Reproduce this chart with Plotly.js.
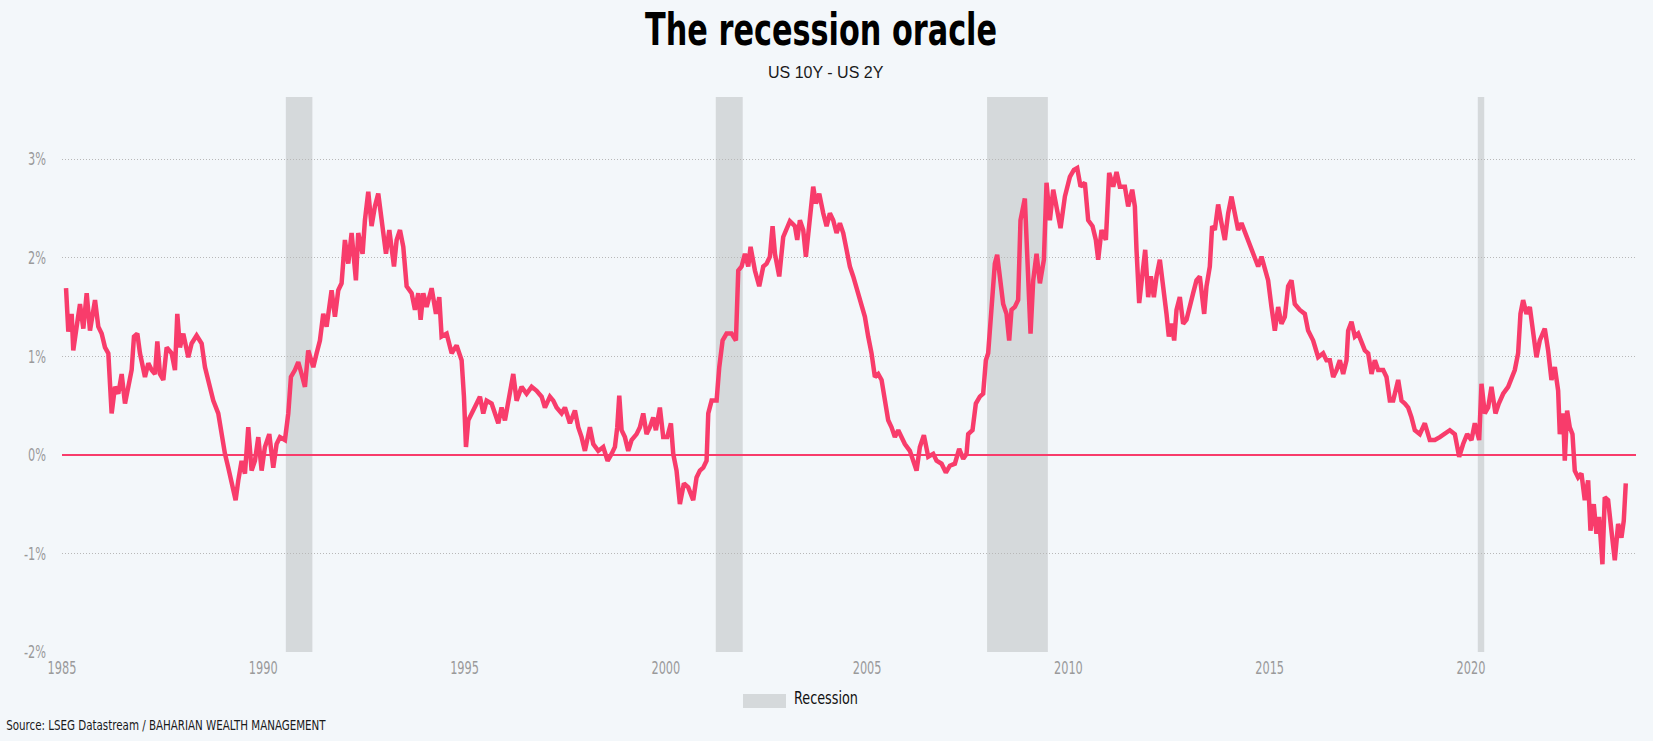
<!DOCTYPE html>
<html>
<head>
<meta charset="utf-8">
<script src="https://cdn.plot.ly/plotly-3.0.1.min.js"></script>
<style>
  html, body { margin: 0; padding: 0; background: #F3F7FA; }
  #chart { width: 1653px; height: 741px; }
</style>
</head>
<body>
<div id="chart"></div>
<script>
// ---- Data (decimal years, spread in %) ----
const years = [
  1985.10,1985.157,1985.24,1985.28,1985.364,1985.447,1985.53,1985.613,1985.695,1985.82,1985.902,1985.985,
  1986.068,1986.151,1986.233,1986.316,1986.399,1986.482,1986.565,1986.647,1986.73,1986.788,1986.871,1986.937,
  1987.061,1987.144,1987.227,1987.31,1987.368,1987.434,1987.517,1987.6,1987.724,1987.806,1987.864,1987.93,
  1988.013,1988.137,1988.22,1988.344,1988.469,1988.551,1988.634,1988.758,1988.882,1988.965,
  1989.048,1989.131,1989.214,1989.313,1989.379,1989.462,1989.545,1989.627,1989.71,1989.793,1989.876,1989.959,
  1990.041,1990.149,1990.248,1990.331,1990.414,1990.538,1990.621,1990.687,1990.786,1990.869,1990.952,
  1991.035,1991.117,1991.242,1991.325,1991.407,1991.49,1991.573,1991.697,1991.78,1991.863,1991.945,
  1992.028,1992.111,1992.194,1992.301,1992.359,1992.467,1992.525,1992.608,1992.69,1992.773,1992.856,
  1992.982,1993.048,1993.131,1993.247,1993.313,1993.396,1993.478,1993.561,1993.685,1993.768,1993.851,1993.909,1993.975,
  1994.058,1994.182,1994.29,1994.372,1994.43,1994.555,1994.679,1994.803,1994.927,1994.985,
  1995.035,1995.093,1995.2,1995.3,1995.382,1995.465,1995.548,1995.672,1995.838,1995.92,
  1996.003,1996.086,1996.21,1996.293,1996.417,1996.541,1996.666,1996.79,1996.914,1996.997,
  1997.121,1997.204,1997.286,1997.41,1997.493,1997.617,1997.742,1997.824,1997.907,1997.99,
  1998.114,1998.197,1998.321,1998.445,1998.553,1998.652,1998.735,1998.793,1998.843,1998.901,1998.983,
  1999.066,1999.149,1999.273,1999.356,1999.439,1999.521,1999.604,1999.687,1999.753,1999.852,1999.935,
  2000.035,2000.126,2000.184,2000.266,2000.349,2000.449,2000.556,2000.68,2000.763,2000.846,2000.929,2001.012,
  2001.054,2001.137,2001.261,2001.327,2001.41,2001.509,2001.633,2001.741,2001.799,2001.882,2001.965,
  2002.047,2002.105,2002.213,2002.32,2002.42,2002.503,2002.585,2002.652,2002.71,2002.817,2002.916,2002.999,
  2003.082,2003.206,2003.264,2003.33,2003.413,2003.479,2003.579,2003.661,2003.728,2003.811,2003.91,2003.993,
  2004.075,2004.158,2004.241,2004.324,2004.407,2004.489,2004.572,2004.655,2004.779,2004.862,2004.945,
  2005.027,2005.11,2005.193,2005.276,2005.359,2005.441,2005.524,2005.607,2005.69,2005.773,2005.855,2005.938,
  2006.062,2006.228,2006.311,2006.41,2006.518,2006.642,2006.725,2006.849,2006.956,
  2007.056,2007.18,2007.287,2007.387,2007.469,2007.511,2007.618,2007.701,2007.8,2007.883,2007.95,
  2008.007,2008.09,2008.173,2008.231,2008.297,2008.38,2008.463,2008.529,2008.587,2008.67,2008.752,2008.81,2008.918,
  2009.002,2009.06,2009.126,2009.209,2009.292,2009.391,2009.457,2009.54,2009.623,2009.706,2009.805,2009.913,
  2010.037,2010.136,2010.219,2010.302,2010.409,2010.492,2010.6,2010.682,2010.74,2010.823,2010.931,
  2011.013,2011.113,2011.196,2011.278,2011.403,2011.485,2011.585,2011.651,2011.692,2011.759,2011.841,2011.908,2011.982,
  2012.048,2012.123,2012.189,2012.272,2012.354,2012.437,2012.495,2012.561,2012.628,2012.686,2012.768,2012.851,2012.934,
  2013.017,2013.099,2013.182,2013.265,2013.373,2013.431,2013.513,2013.571,2013.638,2013.72,2013.803,2013.886,2013.969,
  2014.052,2014.134,2014.217,2014.3,2014.424,2014.548,2014.631,2014.714,2014.797,2014.879,2014.962,
  2015.045,2015.128,2015.211,2015.293,2015.376,2015.459,2015.542,2015.624,2015.748,2015.873,2015.955,
  2016.08,2016.204,2016.328,2016.411,2016.495,2016.578,2016.661,2016.743,2016.826,2016.909,2016.95,
  2017.033,2017.116,2017.199,2017.281,2017.364,2017.447,2017.53,2017.613,2017.695,2017.82,2017.902,2017.985,
  2018.068,2018.192,2018.275,2018.358,2018.44,2018.523,2018.606,2018.73,2018.854,2018.978,
  2019.103,2019.227,2019.351,2019.475,2019.6,2019.707,2019.806,2019.906,
  2020.013,2020.096,2020.204,2020.262,2020.344,2020.427,2020.51,2020.609,2020.692,2020.8,2020.924,
  2021.006,2021.089,2021.172,2021.23,2021.296,2021.379,2021.462,2021.545,2021.627,2021.71,2021.834,2021.917,
  2022.0,2022.083,2022.166,2022.207,2022.29,2022.331,2022.389,2022.455,2022.522,2022.579,2022.662,2022.745,2022.828,2022.911,2022.969,
  2023.051,2023.117,2023.184,2023.266,2023.324,2023.407,2023.49,2023.573,2023.656,2023.738,2023.796,2023.846
];
const spread = [
  1.69,1.25,1.43,1.06,1.30,1.53,1.28,1.64,1.26,1.57,1.30,1.23,
  1.09,1.03,0.42,0.69,0.62,0.82,0.52,0.69,0.86,1.20,1.23,1.03,
  0.79,0.93,0.86,0.82,1.15,0.82,0.76,1.09,1.03,0.86,1.43,1.09,
  1.23,0.99,1.13,1.21,1.13,0.89,0.76,0.55,0.42,0.21,
  0.01,-0.13,-0.26,-0.46,-0.26,-0.06,-0.19,0.28,-0.16,-0.06,0.18,-0.16,
  0.08,0.21,-0.13,0.11,0.18,0.15,0.42,0.79,0.86,0.94,0.82,
  0.69,1.06,0.89,1.03,1.16,1.43,1.30,1.67,1.40,1.67,1.74,
  2.18,1.94,2.25,1.77,2.25,2.04,2.38,2.67,2.32,2.52,2.65,
  2.25,2.04,2.28,1.91,2.18,2.28,2.11,1.71,1.64,1.47,1.64,1.37,1.64,
  1.50,1.69,1.43,1.60,1.20,1.23,1.03,1.11,0.96,0.59,
  0.08,0.35,0.45,0.52,0.59,0.42,0.55,0.52,0.32,0.48,
  0.35,0.55,0.82,0.55,0.69,0.62,0.69,0.65,0.59,0.48,
  0.59,0.55,0.48,0.42,0.48,0.32,0.45,0.28,0.18,0.04,
  0.28,0.11,0.04,0.08,-0.06,0.01,0.08,0.28,0.60,0.25,0.18,
  0.04,0.15,0.21,0.28,0.42,0.21,0.28,0.38,0.25,0.48,0.18,
  0.18,0.32,0.01,-0.16,-0.50,-0.29,-0.33,-0.46,-0.23,-0.16,-0.13,-0.06,
  0.42,0.55,0.55,0.89,1.16,1.23,1.23,1.16,1.87,1.91,2.04,
  1.91,2.11,1.87,1.71,1.91,1.94,2.01,2.32,2.04,1.81,2.21,2.28,
  2.37,2.32,2.18,2.38,2.28,2.01,2.42,2.72,2.55,2.65,2.45,2.32,
  2.45,2.38,2.25,2.35,2.25,2.08,1.91,1.81,1.64,1.50,1.40,
  1.20,1.03,0.79,0.82,0.76,0.52,0.35,0.28,0.18,0.25,0.18,0.11,
  0.04,-0.16,0.08,0.20,-0.02,0.01,-0.06,-0.09,-0.18,
  -0.11,-0.09,0.06,-0.04,0.01,0.21,0.25,0.52,0.59,0.62,0.96,
  1.03,1.43,1.94,2.03,1.77,1.53,1.43,1.16,1.47,1.50,1.57,2.38,2.60,
  1.74,1.23,1.77,2.04,1.74,1.98,2.76,2.38,2.69,2.52,2.30,2.62,
  2.82,2.89,2.91,2.72,2.76,2.38,2.32,2.18,1.98,2.28,2.18,
  2.86,2.72,2.87,2.72,2.72,2.52,2.69,2.52,2.08,1.54,1.84,2.08,1.60,
  1.81,1.60,1.81,1.98,1.74,1.43,1.20,1.33,1.16,1.47,1.60,1.33,1.37,
  1.53,1.64,1.77,1.81,1.43,1.71,1.91,2.32,2.28,2.54,2.35,2.18,2.45,
  2.62,2.45,2.28,2.35,2.21,2.08,2.01,1.91,2.01,1.87,1.77,
  1.50,1.26,1.50,1.33,1.40,1.71,1.77,1.53,1.47,1.43,1.26,
  1.16,0.99,1.03,0.96,0.96,0.79,0.86,0.96,0.82,0.96,1.26,
  1.35,1.20,1.23,1.13,1.06,1.03,0.82,0.96,0.86,0.86,0.79,0.55,
  0.55,0.76,0.55,0.52,0.48,0.38,0.25,0.21,0.32,0.15,
  0.15,0.18,0.21,0.25,0.21,-0.02,0.11,0.21,
  0.15,0.32,0.15,0.72,0.42,0.48,0.69,0.42,0.52,0.62,0.69,
  0.79,0.86,1.03,1.43,1.57,1.43,1.50,1.23,0.99,1.16,1.28,1.06,
  0.76,0.89,0.65,0.21,0.42,-0.06,0.45,0.28,0.21,-0.16,-0.23,-0.19,-0.46,-0.26,-0.77,
  -0.50,-0.80,-0.63,-1.11,-0.43,-0.46,-0.77,-1.07,-0.70,-0.84,-0.67,-0.29
];

// Recession periods (decimal years)
const recessionStart = [1990.56, 2001.24, 2007.98, 2020.17];
const recessionEnd   = [1991.22, 2001.91, 2009.49, 2020.33];

// Axis ticks
const xTickVals = [1985, 1990, 1995, 2000, 2005, 2010, 2015, 2020];
const xTickText = ['1985', '1990', '1995', '2000', '2005', '2010', '2015', '2020'];
const yTickVals = [-2, -1, 0, 1, 2, 3];
const yTickText = ['-2%', '-1%', '0%', '1%', '2%', '3%'];

// ---- Layout constants (pixels) ----
const W = 1653, H = 741;
const M = { l: 62, r: 17, t: 97, b: 89 };
const PW = W - M.l - M.r, PH = H - M.t - M.b;
const px = v => (v - M.l) / PW;          // page x -> paper x
const py = v => (H - M.b - v) / PH;      // page y -> paper y

const LINE = '#F83C6B';
const BG = '#F3F7FA';
const REC = '#D5D9DB';
const NARROW = '"DejaVu Sans Condensed", "Liberation Sans Narrow", "Arial Narrow", sans-serif';

const shapes = recessionStart.map((s, i) => ({
  type: 'rect', xref: 'x', yref: 'paper',
  x0: s, x1: recessionEnd[i], y0: 0, y1: 1,
  fillcolor: REC, line: { width: 0 }, layer: 'below'
}));
// legend swatch
shapes.push({
  type: 'rect', xref: 'paper', yref: 'paper',
  x0: px(743), x1: px(786), y0: py(708), y1: py(694),
  fillcolor: REC, line: { width: 0 }
});

const trace = {
  type: 'scatter', mode: 'lines',
  x: years, y: spread,
  line: { color: LINE, width: 4.5, shape: 'linear' },
  hoverinfo: 'x+y', showlegend: false
};

const tickFont = { family: NARROW, size: 18, color: '#9a9a9a' };

const layout = {
  width: W, height: H,
  margin: M,
  paper_bgcolor: BG, plot_bgcolor: BG,
  showlegend: false,
  xaxis: {
    range: [1985, 2024.1], type: 'linear',
    tickvals: xTickVals, ticktext: xTickText,
    showgrid: false, zeroline: false, showline: false,
    ticks: '', ticklabelstandoff: 3,
    tickfont: tickFont
  },
  yaxis: {
    range: [-2, 3.63],
    tickvals: yTickVals, ticktext: yTickText,
    showgrid: true, gridcolor: '#b8b8b8', griddash: '1px,2px', gridwidth: 1,
    zeroline: true, zerolinecolor: LINE, zerolinewidth: 2,
    showline: false, ticks: '', ticklabelstandoff: 15,
    tickfont: tickFont
  },
  shapes: shapes,
  annotations: [
    { text: 'The recession oracle', xref: 'paper', yref: 'paper',
      x: px(821), y: py(1), xanchor: 'center', yanchor: 'top', showarrow: false,
      font: { family: NARROW, size: 45, weight: 700, color: '#000' } },
    { text: 'US 10Y - US 2Y', xref: 'paper', yref: 'paper',
      x: px(826), y: py(72), xanchor: 'center', yanchor: 'middle', showarrow: false,
      font: { family: '"Liberation Sans", Arial, sans-serif', size: 16, color: '#1a1a1a' } },
    { text: 'Recession', xref: 'paper', yref: 'paper',
      x: px(792), y: py(697), xanchor: 'left', yanchor: 'middle', showarrow: false,
      font: { family: NARROW, size: 18, color: '#111' } },
    { text: 'Source: LSEG Datastream / BAHARIAN WEALTH MANAGEMENT', xref: 'paper', yref: 'paper',
      x: px(4), y: py(725), xanchor: 'left', yanchor: 'middle', showarrow: false,
      font: { family: NARROW, size: 14, color: '#1a1a1a' } }
  ]
};

// Narrow the condensed texts horizontally to mimic the reference's compressed typeface
function squeeze(el, sx, anchor) {
  const NS = 'http://www.w3.org/2000/svg';
  const g = document.createElementNS(NS, 'g');
  el.parentNode.insertBefore(g, el);
  g.appendChild(el);
  const b = g.getBBox();
  const ax = anchor === 'end' ? b.x + b.width : anchor === 'start' ? b.x : b.x + b.width / 2;
  const ay = b.y + b.height / 2;
  g.setAttribute('transform', `translate(${ax},${ay}) scale(${sx},1) translate(${-ax},${-ay})`);
}
function squeezeTo(el, targetW, anchor) {
  const w = el.getBBox().width;
  if (w > 0) squeeze(el, targetW / w, anchor);
}

Plotly.newPlot('chart', [trace], layout, { displayModeBar: false, staticPlot: true }).then(gd => {
  const TICK_SX = 0.7;
  gd.querySelectorAll('.xtick text').forEach(t => squeeze(t, TICK_SX, 'middle'));
  gd.querySelectorAll('.ytick text').forEach(t => squeeze(t, TICK_SX, 'end'));
  const ann = gd.querySelectorAll('.annotation-text');
  squeezeTo(ann[0], 352, 'middle');
  squeezeTo(ann[2], 64, 'start');
  squeezeTo(ann[3], 320, 'start');
});
</script>
</body>
</html>
